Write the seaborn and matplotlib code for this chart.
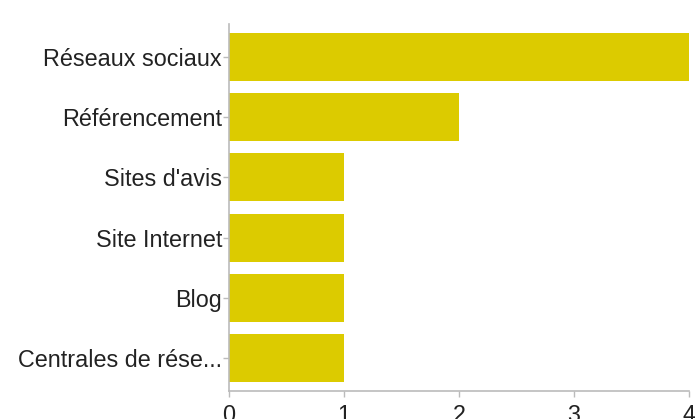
import matplotlib
matplotlib.use("Agg")
import matplotlib.pyplot as plt
import seaborn as sns
import pandas as pd

categories = ["Réseaux sociaux", "Référencement", "Sites d'avis", "Site Internet", "Blog", "Centrales de rése..."]
values = [4, 2, 1, 1, 1, 1]
xticks = [0, 1, 2, 3, 4]

sns.set_style("white")
plt.rcParams['font.family'] = ['Liberation Sans', 'DejaVu Sans']

df = pd.DataFrame({"cat": categories, "val": values})

fig = plt.figure(figsize=(6.95, 4.19), dpi=100)
ax = fig.add_axes([229/695, 1-391/419, (689-229)/695, (391-24)/419])
sns.barplot(data=df, x="val", y="cat", color="#DCCB00", saturation=1, width=0.8, ax=ax, orient="h")
ax.set_xlim(0, 4)
ax.set_ylim(5.55, -0.55)
ax.set_xticks(xticks)
ax.set_xlabel("")
ax.set_ylabel("")
for s in ["top", "right"]:
    ax.spines[s].set_visible(False)
for s in ["left", "bottom"]:
    ax.spines[s].set_color("#bbbbbb")
    ax.spines[s].set_linewidth(1.2)
ax.tick_params(axis="both", bottom=True, left=True, colors="#bbbbbb", labelcolor="#222222",
               labelsize=16.8, length=4, width=1)
ax.tick_params(axis="y", pad=1)
ax.tick_params(axis="x", pad=5)
for b in ax.patches:
    b.set_edgecolor("none")
fig.savefig("out.png", dpi=100)
